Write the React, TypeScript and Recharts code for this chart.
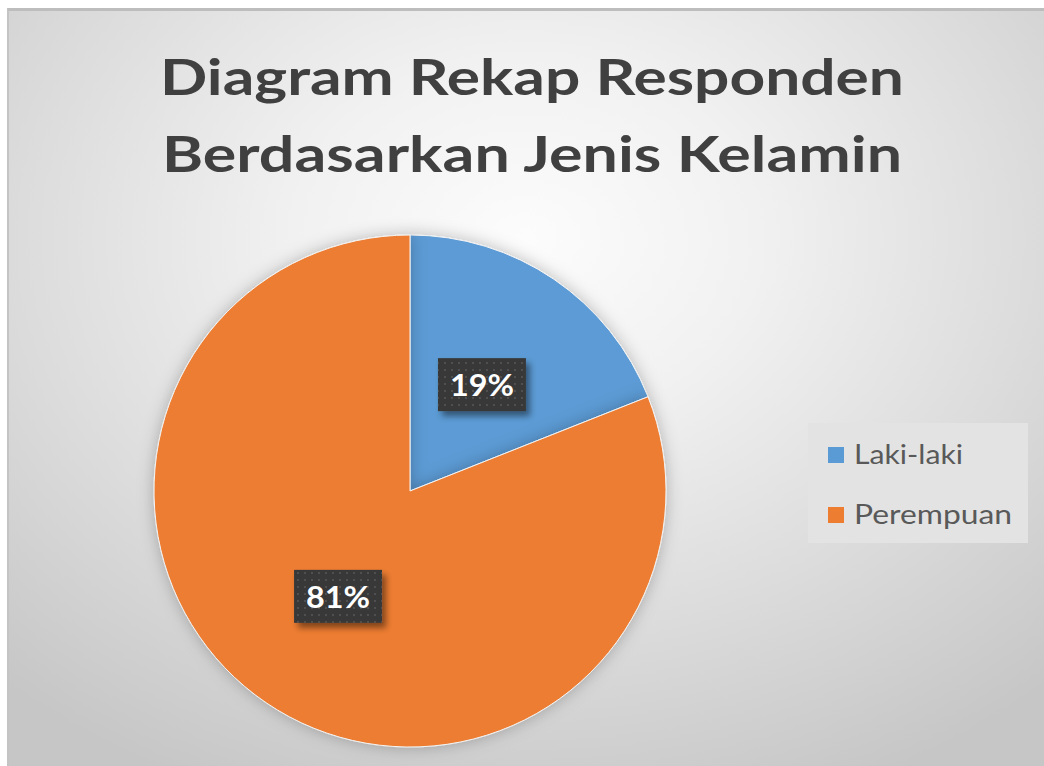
import { Legend, Pie, PieChart, Cell } from "recharts";

const categories = ["Laki-laki", "Perempuan"];
const values = [19, 81];
const colors = ["#5b9bd5", "#ed7d31"];
const titleLines = ["Diagram Rekap Responden", "Berdasarkan Jenis Kelamin"];

const RADIAN = Math.PI / 180;
const W = 1037;
const H = 758;

const chartData = categories.map((name, i) => ({ name, value: values[i] }));

// dark data-label box placed about halfway out on each slice
const renderLabel = (props: any) => {
  const { cx, cy, midAngle, outerRadius, percent } = props;
  const r = outerRadius * 0.5;
  const x = cx + r * Math.cos(-midAngle * RADIAN);
  const y = cy + r * Math.sin(-midAngle * RADIAN);
  return (
    <g>
      <rect x={x - 44} y={y - 27} width={88} height={53} fill="#383838" filter="url(#boxShadow)" />
      <rect x={x - 44} y={y - 27} width={88} height={53} fill="url(#dots)" />
      <text
        x={x}
        y={y + 11}
        textAnchor="middle"
        fill="#ffffff"
        fontFamily="Lato, 'Open Sans', sans-serif"
        fontWeight={700}
        fontSize={31}
        textLength={64}
        lengthAdjust="spacingAndGlyphs"
      >
        {`${Math.round(percent * 100)}%`}
      </text>
    </g>
  );
};

const renderLegend = (props: any) => {
  const payload = props.payload || [];
  return (
    <svg width={220} height={120} style={{ display: "block" }}>
      <rect x={0} y={0} width={220} height={120} fill="#e3e3e3" />
      {payload.map((entry: any, i: number) => (
        <g key={entry.value}>
          <rect x={20} y={24 + i * 60} width={16} height={16} fill={entry.color} />
          <text
            x={46}
            y={41 + i * 60}
            fill="#595959"
            fontFamily="Lato, 'Open Sans', sans-serif"
            fontSize={26}
            textLength={i === 0 ? 109 : 158}
            lengthAdjust="spacingAndGlyphs"
          >
            {entry.value}
          </text>
        </g>
      ))}
    </svg>
  );
};

export default function App() {
  return (
    <div
      style={{
        position: "absolute",
        left: 7,
        top: 8,
        width: W,
        height: H,
        boxSizing: "border-box",
        borderTop: "3px solid #bdbdbd",
        borderLeft: "2px solid #c4c4c4",
        background:
          "radial-gradient(ellipse 75% 80% at 50% 30%, #fcfcfc 0%, #f1f1f1 30%, #dcdcdc 65%, #c6c6c6 100%)",
      }}
    >
      <PieChart width={W - 2} height={H - 3}>
        <defs>
          <pattern id="dots" width={7} height={7} patternUnits="userSpaceOnUse">
            <circle cx={2} cy={2} r={0.9} fill="#5a5a5a" />
          </pattern>
          <filter id="boxShadow" x="-20%" y="-20%" width="150%" height="160%">
            <feDropShadow dx={4} dy={5} stdDeviation={3} floodColor="#000" floodOpacity={0.45} />
          </filter>
          <filter id="pieShadow" x="-10%" y="-10%" width="120%" height="120%">
            <feDropShadow dx={0} dy={0} stdDeviation={8} floodColor="#000" floodOpacity={0.25} />
          </filter>
        </defs>
        <text
          x={523}
          y={84}
          textAnchor="middle"
          fill="#404040"
          fontFamily="Lato, 'Open Sans', sans-serif"
          fontWeight={700}
          fontSize={49}
          textLength={744}
          lengthAdjust="spacingAndGlyphs"
        >
          {titleLines[0]}
        </text>
        <text
          x={523}
          y={161}
          textAnchor="middle"
          fill="#404040"
          fontFamily="Lato, 'Open Sans', sans-serif"
          fontWeight={700}
          fontSize={49}
          textLength={740}
          lengthAdjust="spacingAndGlyphs"
        >
          {titleLines[1]}
        </text>
        <Pie
          data={chartData}
          dataKey="value"
          nameKey="name"
          cx={396}
          cy={475}
          outerRadius={256}
          startAngle={90}
          endAngle={-270}
          stroke="#f4f4f4"
          strokeWidth={1}
          label={renderLabel}
          labelLine={false}
          isAnimationActive={false}
          style={{ filter: "url(#pieShadow)" }}
        >
          {chartData.map((d, i) => (
            <Cell key={d.name} fill={colors[i]} />
          ))}
        </Pie>
        <Legend
          layout="vertical"
          content={renderLegend}
          wrapperStyle={{ position: "absolute", left: 799, top: 412, width: 220, height: 120 }}
        />
      </PieChart>
    </div>
  );
}
